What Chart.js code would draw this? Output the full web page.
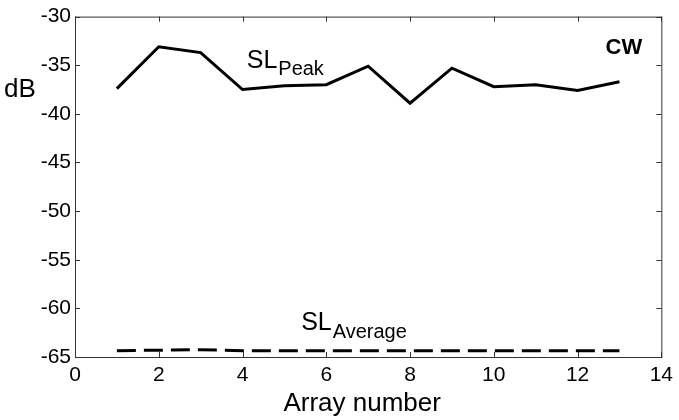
<!DOCTYPE html>
<html><head><meta charset="utf-8">
<script src="https://cdn.jsdelivr.net/npm/chart.js@4"></script>
<style>html,body{margin:0;padding:0;background:#fff}#wrap{width:679px;height:420px}</style>
</head><body><div id="wrap"><canvas id="c" width="679" height="420"></canvas></div>
<script>
const arrayNumbers = [1,2,3,4,5,6,7,8,9,10,11,12,13];
const slPeak = [-37.4,-33.1,-33.7,-37.5,-37.1,-37.0,-35.1,-38.9,-35.3,-37.2,-37.0,-37.6,-36.7];
const slAverage = [-64.35,-64.3,-64.25,-64.35,-64.35,-64.35,-64.35,-64.35,-64.35,-64.35,-64.35,-64.35,-64.35];
const xTicks = [0,2,4,6,8,10,12,14];
const yTicks = [-65,-60,-55,-50,-45,-40,-35,-30];

const FONT = "'Liberation Sans', Arial, sans-serif";

const framePlugin = {
  id: 'frame',
  afterDraw(chart) {
    const ctx = chart.ctx, a = chart.chartArea;
    const xs = chart.scales.x, ys = chart.scales.y;
    ctx.save();
    ctx.strokeStyle = '#333';
    ctx.lineWidth = 1;
    ctx.strokeRect(a.left + 0.5, a.top + 0.5, a.right - a.left, a.bottom - a.top);
    const L = 5;
    ctx.beginPath();
    xTicks.forEach(v => {
      const px = Math.round(xs.getPixelForValue(v)) + 0.5;
      ctx.moveTo(px, a.bottom); ctx.lineTo(px, a.bottom - L);
      ctx.moveTo(px, a.top); ctx.lineTo(px, a.top + L);
    });
    yTicks.forEach(v => {
      const py = Math.round(ys.getPixelForValue(v)) + 0.5;
      ctx.moveTo(a.left, py); ctx.lineTo(a.left + L, py);
      ctx.moveTo(a.right, py); ctx.lineTo(a.right - L, py);
    });
    ctx.stroke();

    ctx.fillStyle = '#000';
    ctx.textBaseline = 'alphabetic';
    ctx.font = '26px ' + FONT;
    ctx.textAlign = 'left';
    ctx.fillText('dB', 4, 97);
    ctx.textAlign = 'center';
    ctx.fillText('Array number', (a.left + a.right) / 2 - 6, 411);

    ctx.textAlign = 'left';
    let x0 = xs.getPixelForValue(4.1), y0 = ys.getPixelForValue(-35.3);
    ctx.font = '25px ' + FONT;
    ctx.fillText('SL', x0, y0);
    let w = ctx.measureText('SL').width;
    ctx.font = '20px ' + FONT;
    ctx.fillText('Peak', x0 + w + 1, y0 + 7);

    x0 = xs.getPixelForValue(5.4); y0 = ys.getPixelForValue(-62.2);
    ctx.font = '25px ' + FONT;
    ctx.fillText('SL', x0, y0);
    w = ctx.measureText('SL').width;
    ctx.font = '20px ' + FONT;
    ctx.fillText('Average', x0 + w + 1, y0 + 8);

    ctx.font = 'bold 22px ' + FONT;
    ctx.fillText('CW', xs.getPixelForValue(12.67), ys.getPixelForValue(-33.8));
    ctx.restore();
  }
};

new Chart(document.getElementById('c'), {
  type: 'line',
  data: {
    datasets: [
      { label: 'SL Peak', data: arrayNumbers.map((x,i)=>({x, y: slPeak[i]})),
        borderColor: '#000', borderWidth: 3, pointRadius: 0, tension: 0, fill: false },
      { label: 'SL Average', data: arrayNumbers.map((x,i)=>({x, y: slAverage[i]})),
        borderColor: '#000', borderWidth: 3, borderDash: [19, 8], pointRadius: 0, tension: 0, fill: false }
    ]
  },
  options: {
    responsive: false,
    animation: false,
    layout: { padding: { left: 0, top: 13, right: 14, bottom: 0 } },
    plugins: { legend: { display: false }, tooltip: { enabled: false } },
    scales: {
      x: {
        type: 'linear', min: 0, max: 14,
        afterBuildTicks: s => { s.ticks = xTicks.map(v => ({ value: v })); },
        afterFit: s => { s.height = 63; },
        grid: { display: false, drawTicks: false },
        border: { display: false },
        ticks: { color: '#000', font: { family: FONT, size: 21 }, padding: 6, maxRotation: 0 }
      },
      y: {
        type: 'linear', min: -65, max: -30,
        afterBuildTicks: s => { s.ticks = yTicks.map(v => ({ value: v })); },
        afterFit: s => { s.width = 75; },
        grid: { display: false, drawTicks: false },
        border: { display: false },
        ticks: { color: '#000', font: { family: FONT, size: 21 }, padding: 4 }
      }
    }
  },
  plugins: [framePlugin]
});
</script>
</body></html>
